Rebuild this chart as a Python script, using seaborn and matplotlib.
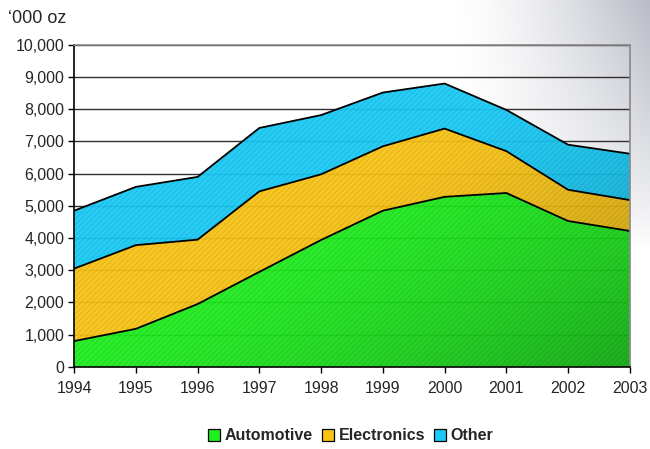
import matplotlib
matplotlib.use("Agg")
import matplotlib.pyplot as plt
import numpy as np
import pandas as pd
import seaborn as sns
from matplotlib.lines import Line2D
from matplotlib.patches import Polygon
from matplotlib.ticker import FuncFormatter

years = [1994, 1995, 1996, 1997, 1998, 1999, 2000, 2001, 2002, 2003]
automotive = [800, 1180, 1950, 2950, 3940, 4850, 5280, 5400, 4530, 4220]
electronics = [2250, 2600, 2000, 2500, 2040, 2000, 2120, 1300, 970, 960]
other = [1800, 1810, 1950, 1970, 1840, 1670, 1400, 1280, 1400, 1440]

series = ["Automotive", "Electronics", "Other"]
colors = ["#1ef01e", "#f9c414", "#18caf6"]

df = pd.DataFrame(
    {"year": years, "Automotive": automotive, "Electronics": electronics, "Other": other}
)
cum = df[series].cumsum(axis=1)
cum["year"] = df["year"]

sns.set_style("white")
plt.rcParams["font.family"] = ["Liberation Sans", "DejaVu Sans"]

fig = plt.figure(figsize=(6.5, 4.49), dpi=100)

# grey sheen in the top right corner of the slide
bg = fig.add_axes([0, 0, 1, 1], zorder=-10)
gx, gy = np.meshgrid(np.linspace(0, 1, 300), np.linspace(1, 0, 300))
fx = np.clip((gx - 0.70) / 0.30, 0, 1)
fy = np.clip((gy - 0.45) / 0.55, 0, 1)
shade = (fx ** 1.4) * (fy ** 0.8)
rgb = np.ones((300, 300, 3))
rgb *= 1 - shade[..., None] * np.array([0.27, 0.26, 0.22])
bg.imshow(rgb, extent=[0, 1, 0, 1], aspect="auto")
bg.axis("off")

ax = fig.add_axes([0.114, 0.183, 0.855, 0.717])
ax.set_facecolor("none")

# grid
for v in range(1000, 10001, 1000):
    ax.axhline(v, color="#303030", lw=1.0, zorder=0)

# stacked areas
ax.stackplot(
    df["year"], df["Automotive"], df["Electronics"], df["Other"],
    colors=colors, alpha=0.94, zorder=1, edgecolor="none",
)
# faint hatch texture
polys = ax.stackplot(
    df["year"], df["Automotive"], df["Electronics"], df["Other"],
    colors=[(0, 0, 0, 0)] * 3, zorder=2, lw=0,
)
for p in polys:
    p.set_hatch("//////")
    p.set_edgecolor((0, 0, 0, 0.07))

# darkening toward the bottom right
outline = list(zip(years, cum["Other"])) + [(2003, 0), (1994, 0)]
clip = Polygon(outline, closed=True, transform=ax.transData)
hx, hy = np.meshgrid(np.linspace(0, 1, 200), np.linspace(1, 0, 200))
d = (hx + (1 - hy)) / 2
a = np.clip((d - 0.45) / 0.55, 0, 1) ** 1.5 * 0.28
dark = np.zeros((200, 200, 4))
dark[..., 3] = a
im = ax.imshow(dark, extent=[1994, 2003, 0, 10000], aspect="auto", zorder=2.5)
im.set_clip_path(clip)

# outlines
for s in series:
    sns.lineplot(data=cum, x="year", y=s, color="black", lw=1.3, ax=ax, zorder=3)

ax.set_xlim(1994, 2003)
ax.set_ylim(0, 10000)
ax.set_xticks(years)
ax.set_yticks(range(0, 10001, 1000))
ax.yaxis.set_major_formatter(FuncFormatter(lambda v, p: f"{int(v):,}"))
ax.set_xlabel("")
ax.set_ylabel("")
ax.tick_params(axis="both", labelsize=11.5, length=4, width=1, color="black",
               direction="out", bottom=True, left=True, pad=3)
ax.tick_params(axis="x", pad=6)

for side in ["left", "bottom"]:
    ax.spines[side].set_color("black")
    ax.spines[side].set_linewidth(1.2)
for side in ["top", "right"]:
    ax.spines[side].set_color("#888888")
    ax.spines[side].set_linewidth(1.2)
for sp in ax.spines.values():
    sp.set_zorder(5)

fig.text(0.012, 0.958, "\u2018000 oz", fontsize=13, ha="left", va="center")

handles = [
    Line2D([], [], marker="s", linestyle="none", markersize=8.5,
           markerfacecolor=c, markeredgecolor="black", markeredgewidth=0.9)
    for c in colors
]
leg = fig.legend(handles, series, loc="center", bbox_to_anchor=(0.537, 0.029),
                 ncol=3, frameon=False, handletextpad=0.05, columnspacing=0.35,
                 handlelength=1.2, prop={"weight": "bold", "size": 11.5})

fig.savefig("out.png", dpi=100)
